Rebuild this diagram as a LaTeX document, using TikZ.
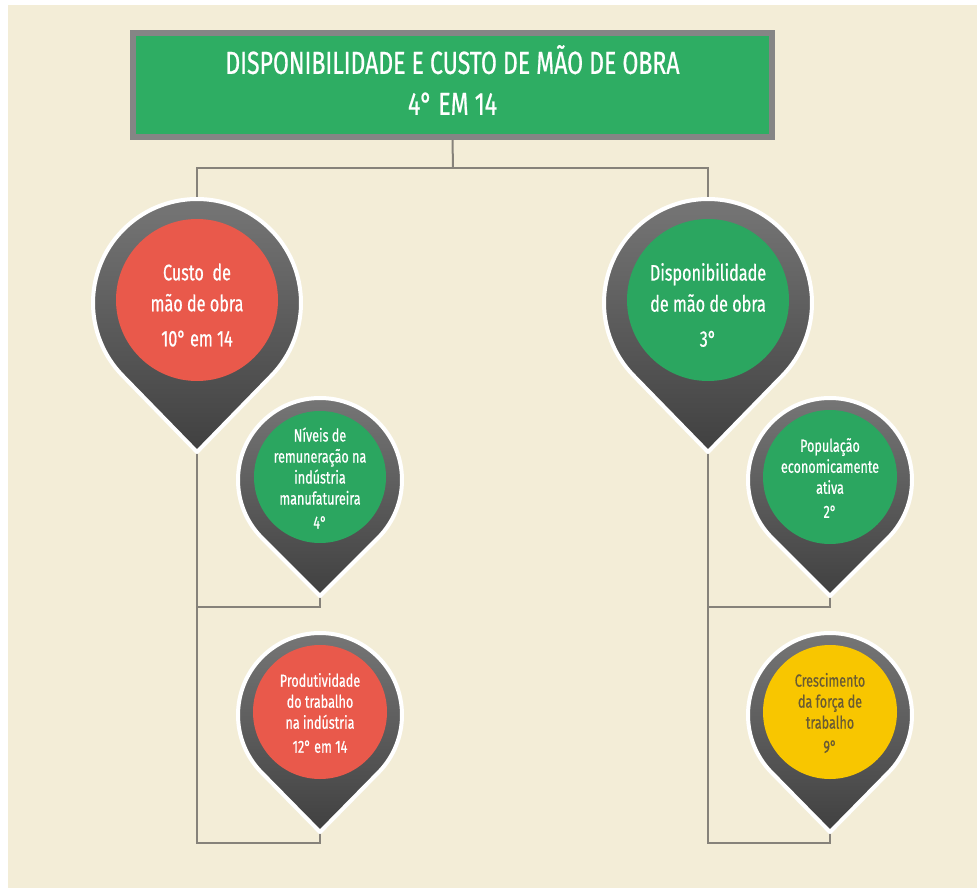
\documentclass[tikz,border=0pt]{standalone}
\usepackage{fontspec}
\setmainfont[FakeStretch=0.72,FakeBold=0.6]{Fira Sans}
\usetikzlibrary{calc}
\definecolor{bg}{HTML}{F3EDD7}
\definecolor{tgreen}{HTML}{2EAD63}
\definecolor{pgreen}{HTML}{2BA660}
\definecolor{pred}{HTML}{E9594B}
\definecolor{pyellow}{HTML}{F8C600}
\definecolor{lgray}{HTML}{86827A}
\definecolor{bgray}{HTML}{858585}
\definecolor{ytext}{HTML}{6A5B33}
\definecolor{pintop}{HTML}{787878}
\definecolor{pinbot}{HTML}{404040}
\tikzset{
  pinbody/.style={draw=white, line width=4pt, top color=pintop, bottom color=pinbot, line join=round},
  conn/.style={draw=lgray, line width=2pt},
  bigtext/.style={font=\fontsize{22.5}{31}\selectfont, text=white, yshift=-5pt},
  smalltext/.style={font=\fontsize{17.5}{21}\selectfont, text=white, yshift=-1pt},
  ysmalltext/.style={font=\fontsize{17.5}{21}\selectfont, text=ytext, yshift=-1pt},
}
% name, cx, cy, R, tip y, inner r, colour, text, text style
\newcommand\mypin[9]{%
  \begin{scope}[shift={(#2,#3)}]
    \pgfmathsetmacro\pind{#5-#3}
    \pgfmathsetmacro\pinph{acos(#4/\pind)}
    \path[pinbody] (0,\pind) -- (90-\pinph:#4)
      arc[start angle=90-\pinph, end angle=\pinph-270, radius=#4] -- cycle;
    \fill[#7] (0,-3) circle[radius=#6];
    \node[inner sep=0pt, align=center, #9] (#1) at (0,-3) {#8};
  \end{scope}
}
\begin{document}
\begin{tikzpicture}[x=1pt,y=-1pt]
\useasboundingbox (0,0) rectangle (977,888);
\fill[white] (0,0) rectangle (977,888);
\fill[bg] (8,5) rectangle (977,888);

% title
\node[draw=bgray, line width=6pt, fill=tgreen, minimum width=639pt, minimum height=104pt,
      inner sep=0pt] (title) at (452.5,85) {};
\node[inner sep=0pt, align=center, text=white, font=\fontsize{32}{41}\selectfont]
  (titletext) at (452.5,80) {DISPONIBILIDADE E CUSTO DE MÃO DE OBRA\\4° EM 14};

% anchor coordinates
\coordinate (j) at (453,168);
\coordinate (Ltop) at (197,198);
\coordinate (Rtop) at (708,198);
\coordinate (Ltip) at (197,452);
\coordinate (Rtip) at (708,452);
\coordinate (LAtip) at (320,596);
\coordinate (LBtip) at (320,832);
\coordinate (RAtip) at (830,596);
\coordinate (RBtip) at (830,832);
\coordinate (LAfoot) at (320,607);
\coordinate (LBfoot) at (320,843);
\coordinate (RAfoot) at (830,607);
\coordinate (RBfoot) at (830,843);

% connectors
\draw[conn] (title.south) -- (j);
\draw[conn] (Ltop) |- (j) -| (Rtop);
\draw[conn] (LAtip) -- (LAfoot) -| (Ltip);
\draw[conn] (LBtip) -- (LBfoot) -| (Ltip);
\draw[conn] (RAtip) -- (RAfoot) -| (Rtip);
\draw[conn] (RBtip) -- (RBfoot) -| (Rtip);

% pins
\mypin{custo}{197}{303}{104}{452}{81}{pred}{Custo\ \ de\\mão de obra\\[4pt]10° em 14}{bigtext}
\mypin{disp}{708}{303}{104}{452}{81}{pgreen}{Disponibilidade\\de mão de obra\\[4pt]3°}{bigtext}
\mypin{niveis}{320}{480}{82}{596}{66}{pgreen}{Níveis de\\remuneração na\\indústria\\manufatureira\\[3pt]4°}{smalltext}
\mypin{prod}{320}{715}{82}{832}{67}{pred}{Produtividade\\do trabalho\\na indústria\\[3pt]12° em 14}{smalltext}
\mypin{pop}{830}{480}{82}{596}{67}{pgreen}{População\\economicamente\\ativa\\[3pt]2°}{smalltext}
\mypin{cresc}{830}{715}{82}{832}{67}{pyellow}{Crescimento\\da força de\\trabalho\\[3pt]9°}{ysmalltext}
\end{tikzpicture}
\end{document}
